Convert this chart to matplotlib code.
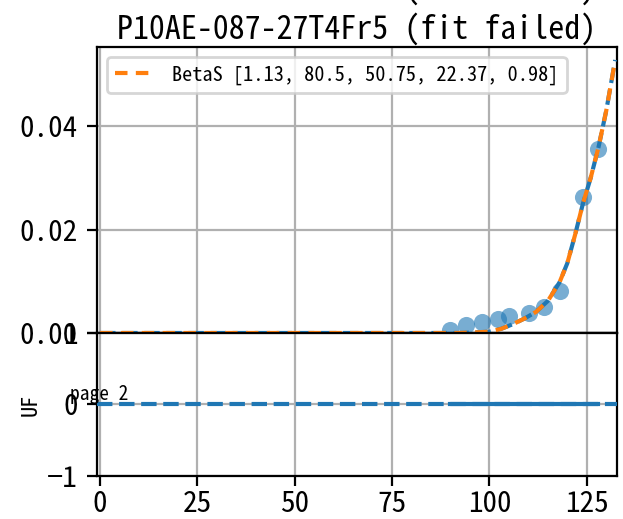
import matplotlib
matplotlib.use("Agg")
import matplotlib.pyplot as plt

plt.rcParams['font.family'] = ['Noto Sans Mono CJK SC', 'DejaVu Sans Mono', 'DejaVu Sans']
plt.rcParams['axes.unicode_minus'] = True

titulo = "P10AE-087-27T4Fr5 (fit failed)"
etiqueta_ajuste = "BetaS [1.13, 80.5, 50.75, 22.37, 0.98]"

# puntos medidos
x_datos = [89.8, 94.1, 98.0, 102.2, 105.1, 110.1, 114.0, 118.1, 124.1, 127.8]
y_datos = [0.0006, 0.0015, 0.0022, 0.0028, 0.0032, 0.0039, 0.0051, 0.0082, 0.0263, 0.0356]
residuos = [0, 0, 0, 0, 0, 0, 0, 0, 0, 0]

# curva del ajuste
x_curva = [0, 88, 92, 96, 100, 103, 106, 109, 112, 115, 118, 120, 122, 124, 126, 128, 130, 132.3]
y_curva = [0, 0, 0, 0.0001, 0.00025, 0.0008, 0.0017, 0.0028, 0.0041, 0.0062, 0.0098,
           0.0135, 0.0190, 0.0250, 0.0300, 0.0359, 0.0430, 0.0528]

x_ticks = [0, 25, 50, 75, 100, 125]
y_ticks_sup = [0.00, 0.02, 0.04]
y_ticks_inf = [-1, 0, 1]

fig = plt.figure(figsize=(6.23 / 2, 5.19 / 2), dpi=200)
ax = fig.add_axes([0.1557, 0.3584, 0.8343, 0.551])
ax2 = fig.add_axes([0.1557, 0.0829, 0.8343, 0.2755], sharex=ax)

ax.scatter(x_datos, y_datos, s=38, color='C0', alpha=0.6, linewidths=0, zorder=3)
ax.plot(x_curva, y_curva, '--', color='C0', lw=1.5, zorder=4)
ax.plot(x_curva, y_curva, '--', color='C1', lw=1.5, dashes=(3, 2), dash_capstyle='butt',
        label=etiqueta_ajuste, zorder=5)
ax.axhline(0, color='black', lw=0.8, zorder=2)
ax.set_ylim(0, 0.0553)
ax.set_yticks(y_ticks_sup)
ax.set_yticklabels(['%.2f' % v for v in y_ticks_sup])
ax.grid(True)
ax.tick_params(labelbottom=False, labelsize=10.5)
ax.legend(loc='upper left', fontsize=7.3)
ax.set_title(titulo, fontsize=11.5, pad=3)

ax2.axhline(0, color='C0', ls='--', lw=1.5, zorder=3)
ax2.plot(x_datos, residuos, '-', color='C0', lw=1.5, zorder=3)
ax2.set_ylim(-1, 1)
ax2.set_yticks(y_ticks_inf)
ax2.set_xlim(-0.8, 132.7)
ax2.set_xticks(x_ticks)
ax2.grid(True)
ax2.tick_params(labelsize=10.5)
ax2.tick_params(axis='x', pad=1.5)
ax2.set_ylabel('UF', fontsize=8, labelpad=2)
ax2.text(-7.7, 0, 'page 2', fontsize=7, va='bottom')

# linea de titulo previa, casi fuera de la figura
fig.text(0.573, 1 + 1.5 / 519, titulo, fontsize=11.5, ha='center', va='baseline')

fig.savefig('out.png', dpi=200)
